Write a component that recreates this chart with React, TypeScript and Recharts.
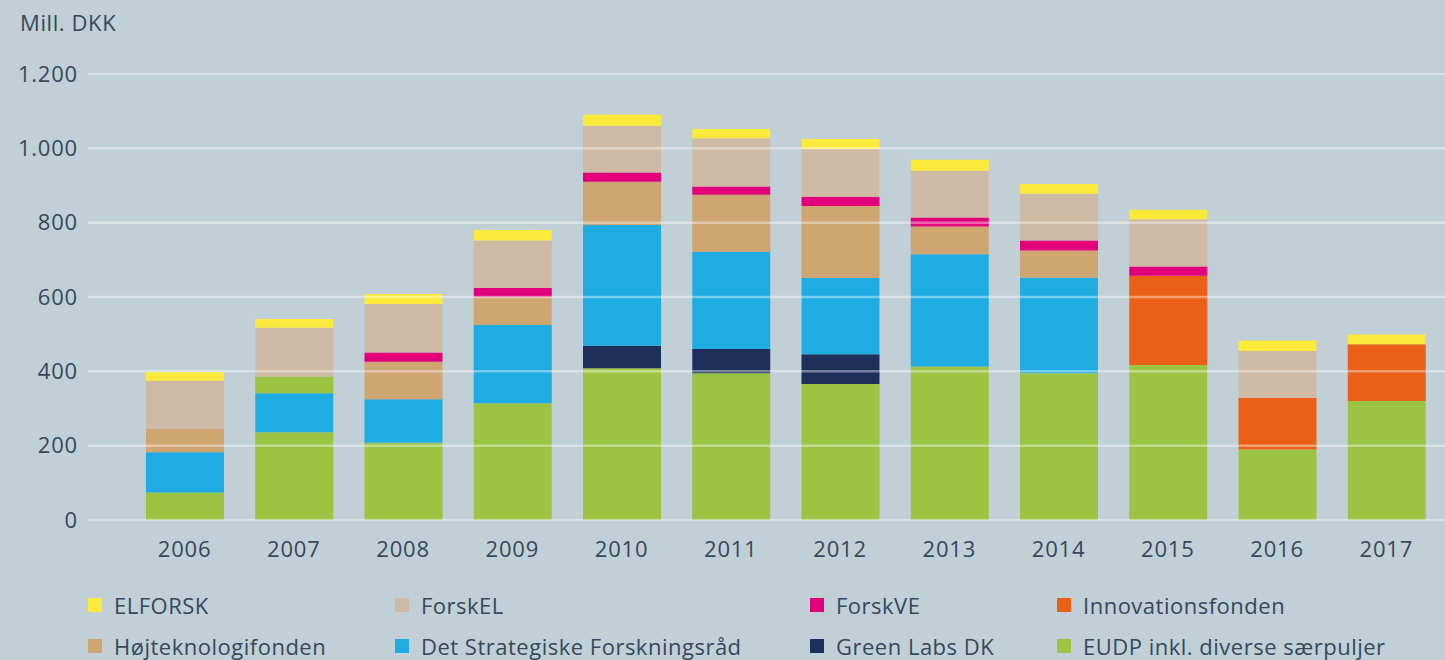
import { BarChart, Bar, XAxis, YAxis, ReferenceLine } from 'recharts'

const years = ['2006', '2007', '2008', '2009', '2010', '2011', '2012', '2013', '2014', '2015', '2016', '2017']

// Mill. DKK per pulje
const eudp = [74, 236, 208, 314, 408, 395, 366, 413, 395, 417, 190, 320]
const greenLabs = [0, 0, 0, 0, 61, 65, 80, 0, 0, 0, 0, 0]
const dsf = [108, 105, 117, 211, 325, 262, 205, 302, 257, 0, 0, 0]
const eudpExtra = [0, 45, 0, 0, 0, 0, 0, 0, 0, 0, 0, 0] // green block above DSF in 2007
const hojtek = [63, 0, 101, 76, 116, 153, 194, 75, 73, 0, 0, 0]
const innovation = [0, 0, 0, 0, 0, 0, 0, 0, 0, 240, 138, 153]
const forskVE = [0, 0, 25, 23, 25, 22, 25, 24, 27, 25, 0, 0]
const forskEL = [130, 131, 130, 128, 126, 130, 128, 126, 126, 127, 127, 0]
const elforsk = [23, 24, 27, 28, 30, 25, 27, 29, 26, 26, 28, 26]

const yTicks = [0, 200, 400, 600, 800, 1000, 1200]

const C = {
  elforsk: '#fbe93b',
  forskEL: '#cfbba5',
  forskVE: '#e2007a',
  innovation: '#ea6016',
  hojtek: '#cfa572',
  dsf: '#1face3',
  greenLabs: '#1f2f5c',
  eudp: '#9bc443',
}

const legendItems = [
  { label: 'ELFORSK', color: C.elforsk, col: 0, row: 0 },
  { label: 'ForskEL', color: C.forskEL, col: 1, row: 0 },
  { label: 'ForskVE', color: C.forskVE, col: 2, row: 0 },
  { label: 'Innovationsfonden', color: C.innovation, col: 3, row: 0 },
  { label: 'Højteknologifonden', color: C.hojtek, col: 0, row: 1 },
  { label: 'Det Strategiske Forskningsråd', color: C.dsf, col: 1, row: 1 },
  { label: 'Green Labs DK', color: C.greenLabs, col: 2, row: 1 },
  { label: 'EUDP inkl. diverse særpuljer', color: C.eudp, col: 3, row: 1 },
]
const legendCols = [88, 395, 810, 1057]
const legendRows = [605, 646]

const data = years.map((year, i) => ({
  year,
  eudp: eudp[i],
  greenLabs: greenLabs[i],
  dsf: dsf[i],
  eudpExtra: eudpExtra[i],
  hojtek: hojtek[i],
  innovation: innovation[i],
  forskVE: forskVE[i],
  forskEL: forskEL[i],
  elforsk: elforsk[i],
}))

const FONT = '"Open Sans", sans-serif'
const TEXT = '#34495a'

const fmt = (v: number) => (v >= 1000 ? `${Math.floor(v / 1000)}.${String(v % 1000).padStart(3, '0')}` : `${v}`)

const tickStyle = { fontSize: 22, fill: TEXT, fontFamily: FONT, letterSpacing: 0.8, fontVariantNumeric: 'oldstyle-nums' } as any

export default function App() {
  return (
    <div
      style={{
        position: 'absolute',
        left: 0,
        top: 0,
        width: 1445,
        height: 660,
        background: '#c1cfd6',
        fontFamily: FONT,
        color: TEXT,
        overflow: 'hidden',
      }}
    >
      <div style={{ position: 'absolute', left: 20, top: 7, fontSize: 22, letterSpacing: 0.6 }}>Mill. DKK</div>

      <BarChart
        width={1445}
        height={660}
        data={data}
        margin={{ top: 74, right: 0, bottom: 110, left: 0 }}
      >
        <XAxis
          dataKey="year"
          axisLine={false}
          tickLine={false}
          tickMargin={15}
          padding={{ left: 42, right: 4 }}
          tick={tickStyle}
        />
        <YAxis
          width={88}
          domain={[0, 1200]}
          ticks={yTicks}
          axisLine={false}
          tickLine={false}
          tickMargin={4}
          tickFormatter={fmt}
          tick={tickStyle}
        />
        <Bar dataKey="eudp" stackId="a" fill={C.eudp} barSize={78} isAnimationActive={false} />
        <Bar dataKey="greenLabs" stackId="a" fill={C.greenLabs} barSize={78} isAnimationActive={false} />
        <Bar dataKey="dsf" stackId="a" fill={C.dsf} barSize={78} isAnimationActive={false} />
        <Bar dataKey="eudpExtra" stackId="a" fill={C.eudp} barSize={78} isAnimationActive={false} />
        <Bar dataKey="hojtek" stackId="a" fill={C.hojtek} barSize={78} isAnimationActive={false} />
        <Bar dataKey="innovation" stackId="a" fill={C.innovation} barSize={78} isAnimationActive={false} />
        <Bar dataKey="forskVE" stackId="a" fill={C.forskVE} barSize={78} isAnimationActive={false} />
        <Bar dataKey="forskEL" stackId="a" fill={C.forskEL} barSize={78} isAnimationActive={false} />
        <Bar dataKey="elforsk" stackId="a" fill={C.elforsk} barSize={78} isAnimationActive={false} />
        {yTicks.map((t) => (
          <ReferenceLine key={t} y={t} stroke="#ffffff" strokeOpacity={0.4} strokeWidth={2.5} />
        ))}
      </BarChart>

      {legendItems.map((it) => (
        <div
          key={it.label}
          style={{
            position: 'absolute',
            left: legendCols[it.col],
            top: legendRows[it.row] - 15,
            height: 30,
            display: 'flex',
            alignItems: 'center',
            fontSize: 22,
            letterSpacing: 0.5,
            whiteSpace: 'nowrap',
          }}
        >
          <span style={{ width: 14, height: 14, background: it.color, marginRight: 12, display: 'inline-block' }} />
          {it.label}
        </div>
      ))}
    </div>
  )
}
